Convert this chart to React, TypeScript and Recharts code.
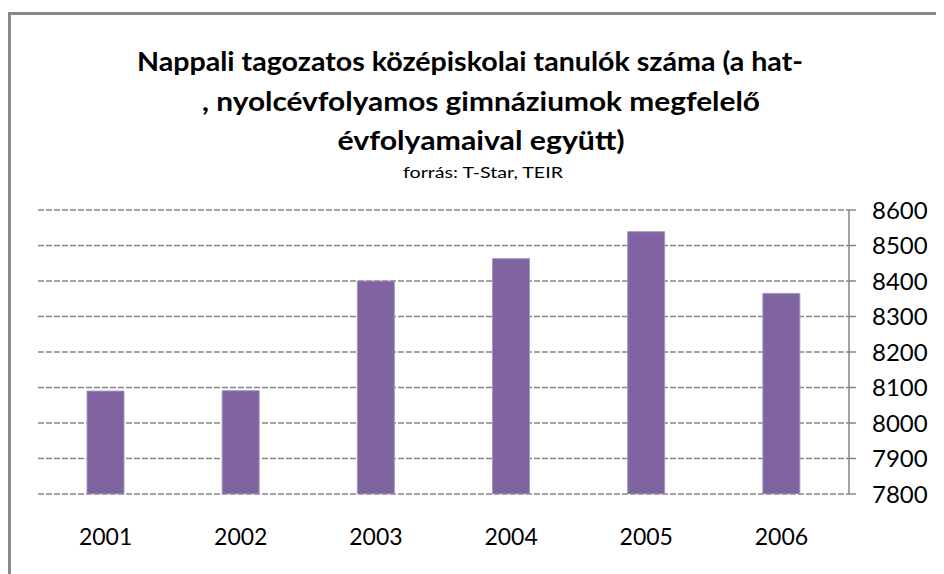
import React from "react";
import { BarChart, Bar, XAxis, YAxis, CartesianGrid } from "recharts";

const years = ["2001", "2002", "2003", "2004", "2005", "2006"];
const students = [8090, 8091, 8400, 8463, 8539, 8365];
const yTicks = [7800, 7900, 8000, 8100, 8200, 8300, 8400, 8500, 8600];
const boundaryTicks = [0, 1, 2, 3, 4, 5, 6];
const titleLines = [
  "Nappali tagozatos középiskolai tanulók száma (a hat-",
  ", nyolcévfolyamos gimnáziumok megfelelő",
  "évfolyamaival együtt)",
];
const subtitle = "forrás: T-Star, TEIR";

const data = years.map((y, i) => ({ year: y, idx: i + 0.5, value: students[i] }));

const FONT = "Lato, 'Open Sans', sans-serif";

export default function App() {
  const W = 936;
  const H = 566;
  return (
    <div style={{ position: "relative", width: W, height: H, overflow: "hidden", background: "#fff" }}>
      <div
        style={{
          position: "absolute",
          left: 0,
          top: 4,
          width: W + 20,
          height: H + 20,
          borderTop: "3px solid #878787",
          borderLeft: "3px solid #878787",
          boxSizing: "border-box",
        }}
      />
      <svg width={W} height={180} style={{ position: "absolute", left: 0, top: 0 }}>
        <text x={462} y={63} textAnchor="middle" fontFamily={FONT} fontWeight={700} fontSize={27} fill="#000" textLength={666} lengthAdjust="spacingAndGlyphs">
          {titleLines[0]}
        </text>
        <text x={473} y={103} textAnchor="middle" fontFamily={FONT} fontWeight={700} fontSize={27} fill="#000" textLength={558} lengthAdjust="spacingAndGlyphs">
          {titleLines[1]}
        </text>
        <text x={473} y={142} textAnchor="middle" fontFamily={FONT} fontWeight={700} fontSize={27} fill="#000" textLength={287} lengthAdjust="spacingAndGlyphs">
          {titleLines[2]}
        </text>
        <text x={475} y={170} textAnchor="middle" fontFamily={FONT} fontSize={15} fill="#000" textLength={160} lengthAdjust="spacingAndGlyphs">
          {subtitle}
        </text>
      </svg>
      <div style={{ position: "absolute", left: 0, top: 0 }}>
        <BarChart
          width={W}
          height={H}
          data={data}
          margin={{ top: 202, right: 15, left: 30, bottom: 40 }}
          barSize={37}
        >
          <CartesianGrid
            horizontal={true}
            vertical={false}
            stroke="#878787"
            strokeWidth={1.5}
            strokeDasharray="6 2"
            yAxisId="y"
          />
          <XAxis
            xAxisId="b"
            type="number"
            dataKey="idx"
            domain={[0, 6]}
            ticks={boundaryTicks}
            tick={false}
            tickSize={8}
            height={0}
            stroke="#868686"
            axisLine={{ stroke: "#868686", strokeWidth: 1.5 }}
            tickLine={{ stroke: "#868686", strokeWidth: 1.5 }}
            allowDecimals={false}
          />
          <XAxis
            xAxisId="a"
            dataKey="year"
            axisLine={false}
            tickLine={false}
            height={40}
            tickMargin={29}
            tick={{ fill: "#000", fontSize: 23, fontFamily: FONT }}
            interval={0}
          />
          <YAxis
            yAxisId="y"
            orientation="right"
            domain={[7800, 8600]}
            ticks={yTicks}
            width={80}
            tickSize={7}
            tickMargin={16}
            axisLine={{ stroke: "#868686", strokeWidth: 1.5 }}
            tickLine={{ stroke: "#868686", strokeWidth: 1.5 }}
            tick={{ fill: "#000", fontSize: 24, fontFamily: FONT }}
            allowDataOverflow
          />
          <Bar
            xAxisId="a"
            yAxisId="y"
            dataKey="value"
            fill="#8064A2"
            stroke="#a796c0"
            strokeWidth={1}
            isAnimationActive={false}
          />
        </BarChart>
      </div>
    </div>
  );
}
